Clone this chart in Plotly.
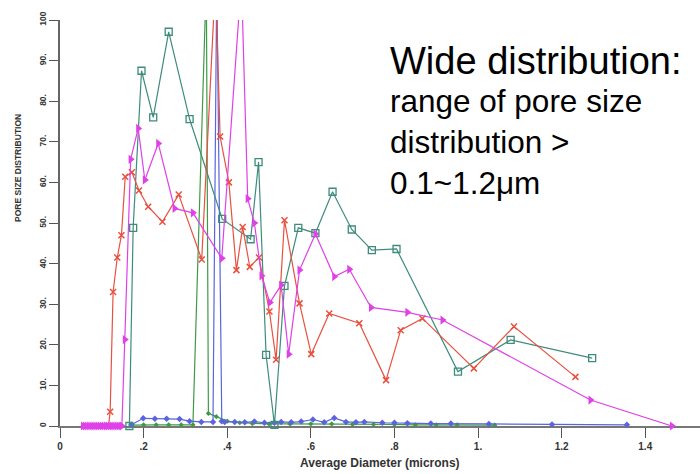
import plotly.graph_objects as go

# ---- data ----
red_x = [0.116, 0.120, 0.127, 0.137, 0.147, 0.156, 0.172, 0.189, 0.211, 0.245, 0.284, 0.339, 0.372, 0.383,
         0.404, 0.422, 0.437, 0.454, 0.476, 0.501, 0.517, 0.537, 0.573, 0.601, 0.644, 0.716, 0.780, 0.815,
         0.867, 0.990, 1.086, 1.233]
red_y = [0, 3.5, 33, 41.5, 47, 61.4, 62.5, 58, 54, 50.3, 57, 41, 110, 71.3,
         60, 38.4, 49, 39.2, 41.5, 28.2, 16.3, 50.7, 30.2, 17.7, 27.7, 25.3, 11.3, 23.6,
         26.5, 14.2, 24.5, 12.1]

mag_x = [0.055, 0.06, 0.065, 0.07, 0.075, 0.08, 0.085, 0.09, 0.095, 0.10, 0.105, 0.11, 0.115, 0.12,
         0.125, 0.13, 0.135, 0.14, 0.145, 0.148, 0.155, 0.169, 0.187,
         0.203, 0.235, 0.274, 0.318, 0.387, 0.434, 0.449, 0.465, 0.482, 0.502, 0.529, 0.547, 0.573,
         0.611, 0.656, 0.692, 0.744, 0.831, 0.915, 1.269, 1.464]
mag_y = [0, 0, 0, 0, 0, 0, 0, 0, 0, 0, 0, 0, 0, 0,
         0, 0, 0, 0, 0, 0, 21.3, 65.7, 73.3,
         60.6, 69.6, 53.6, 52.5, 41.3, 110, 56, 50, 37, 30.4, 34.7, 17.7, 38.4,
         47.3, 36.8, 38.6, 29.2, 28, 26.1, 6.4, 0]

teal_x = [0.166, 0.175, 0.195, 0.223, 0.260, 0.310, 0.388, 0.456, 0.475, 0.493, 0.513, 0.537, 0.570,
          0.611, 0.652, 0.698, 0.746, 0.805, 0.952, 1.078, 1.273]
teal_y = [0, 48.8, 87.5, 76, 97.1, 75.6, 51, 46, 65, 17.5, 0.3, 34.5, 48.8,
          47.5, 57.7, 48.4, 43.3, 43.6, 13.4, 21.2, 16.7]

blue_x = [0.171, 0.199, 0.227, 0.255, 0.286, 0.310, 0.338, 0.366, 0.375, 0.387, 0.394, 0.418, 0.442,
          0.465, 0.489, 0.513, 0.529, 0.553, 0.577, 0.605, 0.632, 0.656, 0.684, 0.708, 0.728, 0.771,
          0.800, 0.831, 0.887, 0.935, 1.026, 1.177, 1.356]
blue_y = [0.3, 1.9, 1.8, 1.8, 1.7, 1.2, 1.0, 1.0, 110, 1.2, 1.0, 1.0, 0.9,
          1.1, 0.8, 0.8, 1.0, 0.9, 1.1, 1.6, 0.9, 2.0, 1.0, 0.9, 1.0, 0.8,
          0.8, 0.7, 0.6, 0.6, 0.5, 0.4, 0.3]

green_x = [0.17, 0.20, 0.23, 0.26, 0.29, 0.318, 0.350, 0.355, 0.374, 0.40, 0.43, 0.46, 0.50, 0.55,
           0.60, 0.65, 0.70, 0.75, 0.80, 0.85, 0.90, 0.95, 1.04]
green_y = [0.2, 0.3, 0.3, 0.3, 0.3, 0.3, 110, 3.1, 2.3, 1.2, 0.8, 0.6, 0.5, 0.5,
           0.5, 0.5, 0.4, 0.4, 0.4, 0.3, 0.3, 0.3, 0.2]

x_tickvals = [0, 0.2, 0.4, 0.6, 0.8, 1.0, 1.2, 1.4]
x_ticktext = ["<b>0</b>", "<b>.2</b>", "<b>.4</b>", "<b>.6</b>", "<b>.8</b>", "<b>1.</b>", "<b>1.2</b>", "<b>1.4</b>"]
y_tickvals = [0, 10, 20, 30, 40, 50, 60, 70, 80, 90, 100]
y_ticktext = ["<b>0</b>", "<b>10.</b>", "<b>20.</b>", "<b>30.</b>", "<b>40.</b>", "<b>50.</b>",
              "<b>60.</b>", "<b>70.</b>", "<b>80.</b>", "<b>90.</b>", "<b>100</b>"]

FONT = "Arial, Liberation Sans, sans-serif"

fig = go.Figure()
fig.add_trace(go.Scatter(x=green_x, y=green_y, mode="lines+markers", cliponaxis=False,
                         line=dict(color="#3f9a45", width=1.2),
                         marker=dict(symbol="diamond", size=4, color="#3f9a45")))
fig.add_trace(go.Scatter(x=blue_x, y=blue_y, mode="lines+markers", cliponaxis=False,
                         line=dict(color="#5a64dc", width=1.2),
                         marker=dict(symbol="diamond", size=5, color="#5a64dc")))
fig.add_trace(go.Scatter(x=teal_x, y=teal_y, mode="lines+markers", cliponaxis=False,
                         line=dict(color="#3d8c7c", width=1.2),
                         marker=dict(symbol="square-open", size=7, color="#3d8c7c", line=dict(width=1.3))))
fig.add_trace(go.Scatter(x=red_x, y=red_y, mode="lines+markers", cliponaxis=False,
                         line=dict(color="#e8503f", width=1.2),
                         marker=dict(symbol="x-thin-open", size=6, color="#e8503f", line=dict(width=1.5, color="#e8503f"))))
fig.add_trace(go.Scatter(x=mag_x, y=mag_y, mode="lines+markers", cliponaxis=False,
                         line=dict(color="#e040e8", width=1.2),
                         marker=dict(symbol="triangle-right", size=8, color="#e040e8")))

fig.update_layout(
    width=700, height=474,
    margin=dict(l=60, r=0, t=20, b=48),
    paper_bgcolor="white", plot_bgcolor="white",
    showlegend=False,
    font=dict(family=FONT, color="#333"),
    xaxis=dict(range=[0, 1.531], showgrid=False, zeroline=False,
               showline=True, linecolor="#777", linewidth=2, layer="below traces",
               ticks="outside", ticklen=10, tickcolor="#555", tickwidth=1,
               tickvals=x_tickvals, ticktext=x_ticktext,
               tickfont=dict(size=10, color="#333", family=FONT)),
    yaxis=dict(range=[0, 100], showgrid=False, zeroline=False,
               showline=True, linecolor="#666", linewidth=1.5, layer="below traces",
               ticks="outside", ticklen=9, tickcolor="#555", tickwidth=1,
               tickvals=y_tickvals, ticktext=y_ticktext, tickangle=-90,
               tickfont=dict(size=8.5, color="#333", family=FONT)),
    annotations=[
        dict(text="Wide distribution:", xref="paper", yref="paper", x=0.5125, y=0.898,
             xanchor="left", yanchor="middle", showarrow=False, align="left",
             font=dict(size=38, color="black", family=FONT)),
        dict(text="range of pore size<br>distribution ><br>0.1~1.2μm", xref="paper", yref="paper",
             x=0.5125, y=0.700, xanchor="left", yanchor="middle", showarrow=False, align="left",
             font=dict(size=31.5, color="black", family=FONT)),
        dict(text="<b>PORE SIZE DISTRIBUTION</b>", xref="paper", yref="paper", x=-0.066, y=0.635,
             xanchor="center", yanchor="middle", showarrow=False, textangle=-90,
             font=dict(size=8.5, color="#333", family=FONT)),
        dict(text="<b>Average Diameter (microns)</b>", xref="paper", yref="paper", x=0.5, y=-0.09,
             xanchor="center", yanchor="middle", showarrow=False,
             font=dict(size=12, color="#333", family=FONT)),
    ],
)

fig.write_html("out.html", config={"displayModeBar": False},
               post_script="document.body.style.margin='0px';")
